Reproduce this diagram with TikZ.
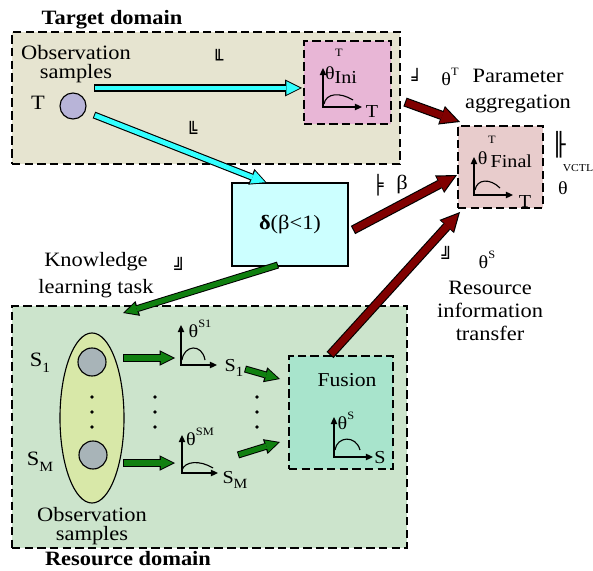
\documentclass[tikz,border=0pt]{standalone}
\usepackage{fontspec}
\setmainfont{Liberation Serif}[FakeStretch=1.1]
\newfontfamily\boxfont{DejaVu Sans}
\usepackage{tikz}
\usetikzlibrary{positioning}
\usetikzlibrary{arrows.meta,fit,shapes.geometric}
\definecolor{TargetColor}{HTML}{E6E4D0}
\definecolor{IniColor}{HTML}{E8B6D6}
\definecolor{FinalColor}{HTML}{E8CCCC}
\definecolor{DeltaColor}{HTML}{CCFFFF}
\definecolor{ResColor}{HTML}{CCE4CC}
\definecolor{GroupColor}{HTML}{D8E8A8}
\definecolor{FusionColor}{HTML}{A8E4CC}
\definecolor{SampleColor}{HTML}{A8B4B8}
\definecolor{TColor}{HTML}{B8B4D8}
\definecolor{CyanArrow}{HTML}{33FFFF}
\definecolor{RedArrow}{HTML}{800000}
\definecolor{GreenArrow}{HTML}{108010}
\newcommand\gl[1]{{\boxfont\fontsize{13}{13}\selectfont#1}}
\newcommand\glbig[1]{{\boxfont\fontsize{16}{16}\selectfont#1}}
\newcommand\upidx[1]{\raisebox{0.55em}{\fontsize{8}{8}\selectfont#1}}
\newcommand\lowidx[1]{\raisebox{-0.3em}{\fontsize{10}{10}\selectfont#1}}
\newcommand\axisfont{\fontsize{13}{13}\selectfont}
\tikzset{
	domainbox/.style={draw, dash pattern=on 6pt off 3pt, line width=0.9pt, inner sep=0pt},
	plainbox/.style={draw, line width=0.8pt, inner sep=0pt},
	sample/.style={circle, draw, line width=0.8pt, inner sep=0pt},
	axes/.style={line width=0.9pt, {Triangle[length=5pt,width=4.5pt]}-{Triangle[length=5pt,width=4.5pt]}},
	cyanarrow/.style={draw=black, line width=5pt, -{Triangle[length=12pt,width=12pt,line width=0pt]},
		postaction={draw=CyanArrow, line width=3.4pt, shorten >=1.5pt, shorten <=0.7pt, -{Triangle[length=9.6pt,width=9.6pt,line width=0pt]}}},
	redarrow/.style={draw=black, line width=6.6pt, -{Triangle[length=14pt,width=14pt,line width=0pt]},
		postaction={draw=RedArrow, line width=5pt, shorten >=1.8pt, shorten <=0.8pt, -{Triangle[length=11.6pt,width=11.6pt,line width=0pt]}}},
	greenarrow/.style={draw=black, line width=5pt, -{Triangle[length=11pt,width=11pt,line width=0pt]},
		postaction={draw=GreenArrow, line width=3.6pt, shorten >=1.5pt, shorten <=0.7pt, -{Triangle[length=8.6pt,width=8.6pt,line width=0pt]}}},
}

\begin{document}
\begin{tikzpicture}[x=0.025cm, y=-0.025cm, font=\fontsize{14.5}{16}\selectfont]
	\useasboundingbox (0,0) rectangle (593,571);

	% domains
	\node[domainbox, fill=TargetColor, fit={(12,32) (400,164)}](target){};
	\node[domainbox, fill=ResColor, fit={(12,306) (407,548)}](resource){};
	\node[font=\fontsize{14.5}{16}\selectfont\bfseries](targetlbl) at (112,20) {Target domain};
	\node[font=\fontsize{14.5}{16}\selectfont\bfseries](resourcelbl) at (128,559) {Resource domain};

	% target side
	\node[domainbox, fill=IniColor, fit={(304,41) (391,124)}](ini){};
	\node[sample, fill=TColor, minimum size=0.65cm](tsample) at (73,106) {};
	\node(tlbl) at (38,103) {T};
	\node[align=center, font=\fontsize{14.5}{14}\selectfont](tobs) at (76,64) {Observation\\samples};
	\node[plainbox, fill=DeltaColor, fit={(232,183) (348,266)}](delta){};
	\node(deltalbl) at (delta.center) {\textbf{δ}(β<1)};
	\node[domainbox, fill=FinalColor, fit={(458,126) (543,208)}](final){};

	% resource side
	\node[ellipse, draw, line width=0.8pt, fill=GroupColor, minimum width=1.6cm, minimum height=4.25cm, inner sep=0pt](group) at (92,418) {};
	\node[sample, fill=SampleColor, minimum size=0.7cm](s1) at (92,362) {};
	\node[sample, fill=SampleColor, minimum size=0.7cm](sm) at (93,455) {};
	\node(s1lbl) at (40,363) {S\lowidx{1}};
	\node(smlbl) at (40,462) {S\lowidx{M}};
	\node[align=center, font=\fontsize{14.5}{14}\selectfont](sobs) at (92,526) {Observation\\samples};
	\node[domainbox, fill=FusionColor, fit={(289,356) (393,469)}](fusion){};
	\node[font=\fontsize{14}{14}\selectfont](fusionlbl) at (347,380) {Fusion};
	\foreach \x in {92,155,257}
		\foreach \y in {397,412,427}
			\fill (\x,\y) circle (1.4pt);

	% small axes
	\draw[axes] (323,68) -- (323,107) -- (362,107);
	\draw[line width=0.8pt] (324,104) .. controls (326,93) and (340,92) .. (353,100);
	\draw[axes] (474,157) -- (474,195) -- (513,195);
	\draw[line width=0.8pt] (475,190) .. controls (477,179) and (490,178) .. (500,188);
	\draw[axes] (181,325) -- (181,365) -- (217,365);
	\draw[line width=0.8pt] (182,360) .. controls (184,345) and (202,343) .. (205,360);
	\draw[axes] (182,435) -- (182,473) -- (218,473);
	\draw[line width=0.8pt] (182,470) .. controls (185,461) and (200,460) .. (213,468);
	\draw[axes] (334,417) -- (334,457) -- (373,457);
	\draw[line width=0.8pt] (335,450) .. controls (337,436) and (356,435) .. (360,450);

	\node[font=\axisfont](initheta) at (341,75) {θ\raisebox{-3pt}{Ini}};
	\node[font=\fontsize{8}{8}\selectfont](inisup) at (339,53) {T};
	\node[font=\axisfont](iniaxis) at (372,112) {T};
	\node[font=\axisfont](fintheta) at (505,160) {θ\,\raisebox{-2pt}{Final}};
	\node[font=\fontsize{8}{8}\selectfont](finsup) at (492,140) {T};
	\node[font=\axisfont](finaxis) at (525,202) {T};
	\node[font=\axisfont](s1theta) at (200,329) {θ\upidx{S1}};
	\node[font=\axisfont](s1axis) at (234,368) {S\lowidx{1}};
	\node[font=\axisfont](smtheta) at (200,437) {θ\upidx{SM}};
	\node[font=\axisfont](smaxis) at (235,480) {S\lowidx{M}};
	\node[font=\axisfont](fustheta) at (346,421) {θ\upidx{S}};
	\node[font=\axisfont](fusaxis) at (380,458) {S};

	% labels
	\node(g1) at (218,58) {\gl{╙}};
	\node(g2) at (192,130) {\gl{╚}};
	\node(g3) at (417,77) {\gl{╛}};
	\node[font=\axisfont](thetat) at (450,77) {θ\upidx{T}};
	\node[align=center, font=\fontsize{14.5}{18.8}\selectfont](paramlbl) at (518,91) {Parameter\\aggregation};
	\node(g4) at (559,145) {\glbig{╟}};
	\node[font=\fontsize{7.5}{8}\selectfont](vctl) at (578,168) {VCTL};
	\node[font=\axisfont](thetav) at (563,188) {θ};
	\node(g5) at (378,185) {\gl{╞}};
	\node(betalbl) at (402,184) {β};
	\node(g6) at (447,255) {\gl{╝}};
	\node[font=\axisfont](thetas) at (487,260) {θ\upidx{S}};
	\node[align=center, font=\fontsize{14.5}{16.3}\selectfont](transferlbl) at (490,311) {Resource\\information\\transfer};
	\node[align=center, font=\fontsize{14.5}{19.4}\selectfont](knowlbl) at (96,275) {Knowledge\\learning task};
	\node(g7) at (180,266) {\gl{╝}};

	% arrow ends
	\coordinate(c1s) at (94,88);
	\coordinate(c1e) at (302,88);
	\coordinate(c2s) at (94,115);
	\coordinate(c2e) at (267,183);
	\coordinate(r1s) at (405,102);
	\coordinate(r1e) at (460,122);
	\coordinate(r2s) at (353,230);
	\coordinate(r2e) at (457,175);
	\coordinate(r3s) at (330,355);
	\coordinate(r3e) at (460,212);
	\coordinate(k1s) at (278,265);
	\coordinate(k1e) at (123,313);
	\coordinate(k2s) at (123,358);
	\coordinate(k2e) at (175,358);
	\coordinate(k3s) at (123,463);
	\coordinate(k3e) at (175,463);
	\coordinate(k4s) at (245,369);
	\coordinate(k4e) at (280,379);
	\coordinate(k5s) at (238,455);
	\coordinate(k5e) at (280,442);

	\draw[cyanarrow] (c1s) -- (c1e);
	\draw[cyanarrow] (c2s) -- (c2e);
	\draw[redarrow] (r1s) -- (r1e);
	\draw[redarrow] (r2s) -- (r2e);
	\draw[redarrow] (r3s) -- (r3e);
	\draw[greenarrow] (k1s) -- (k1e);
	\draw[greenarrow] (k2s) -- (k2e);
	\draw[greenarrow] (k3s) -- (k3e);
	\draw[greenarrow] (k4s) -- (k4e);
	\draw[greenarrow] (k5s) -- (k5e);

\end{tikzpicture}
\end{document}
